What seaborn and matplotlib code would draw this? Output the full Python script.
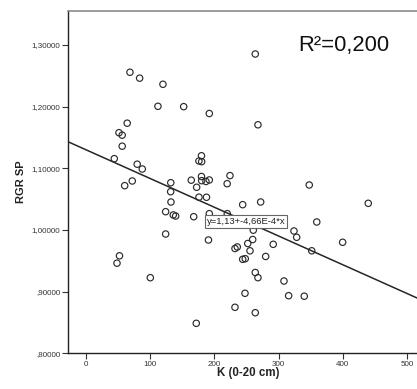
import matplotlib
matplotlib.use("Agg")
import matplotlib.pyplot as plt
import seaborn as sns
import numpy as np
import pandas as pd

# ---- data ----
k_values = [68.5, 83.6, 119.9, 112.1, 152.2, 192.1, 64.2, 51.4, 56.4, 56.4,
            44.1, 79.8, 87.7, 179.9, 176.0, 180.2, 60.3, 72.1, 132.1, 131.9,
            164.0, 172.4, 179.9, 186.9, 192.1, 224.3, 219.9, 176.0, 187.7, 132.4,
            124.1, 136.0, 139.7, 167.8, 124.1, 190.8, 52.2, 48.3, 100.2, 171.8,
            263.7, 267.9, 347.8, 439.7, 244.1, 272.1, 192.1, 220.1, 359.5, 260.6,
            324.0, 328.2, 259.7, 252.0, 291.7, 399.8, 351.7, 232.1, 235.7, 255.5,
            279.9, 244.1, 248.1, 263.7, 267.9, 308.4, 247.7, 315.7, 340.0, 232.1,
            263.7, 180.2]
rgr_values = [1.2557, 1.2461, 1.2362, 1.2005, 1.1999, 1.1888, 1.1731, 1.1577, 1.1537, 1.1358,
              1.1156, 1.1066, 1.0988, 1.1203, 1.1118, 1.1107, 1.0718, 1.0794, 1.0766, 1.0620,
              1.0807, 1.0692, 1.0867, 1.0786, 1.0810, 1.0881, 1.0750, 1.0531, 1.0530, 1.0453,
              1.0296, 1.0243, 1.0226, 1.0215, 0.9934, 0.9837, 0.9581, 0.9461, 0.9226, 0.8486,
              1.2853, 1.1705, 1.0729, 1.0432, 1.0410, 1.0453, 1.0264, 1.0264, 1.0129, 0.9996,
              0.9983, 0.9881, 0.9845, 0.9780, 0.9767, 0.9800, 0.9662, 0.9699, 0.9724, 0.9662,
              0.9570, 0.9524, 0.9534, 0.9310, 0.9226, 0.9172, 0.8973, 0.8934, 0.8926, 0.8746,
              0.8658, 1.0799]
intercept = 1.13
slope = -4.66e-4
r2_text = "R²=0,200"
eq_text = "y=1,13+-4,66E-4*x"
x_ticks = [0, 100, 200, 300, 400, 500]
y_ticks = [0.80, 0.90, 1.00, 1.10, 1.20, 1.30]
y_tick_labels = [",80000", ",90000", "1,00000", "1,10000", "1,20000", "1,30000"]
x_label = "K (0-20 cm)"
y_label = "RGR SP"

df = pd.DataFrame({"K": k_values, "RGR": rgr_values})

sns.set_theme(style="white")
plt.rcParams["font.family"] = ["Liberation Sans", "DejaVu Sans"]

fig = plt.figure(figsize=(4.17, 3.89), dpi=100)
ax = fig.add_axes([68 / 417, (389 - 353.3) / 389, (419.8 - 68) / 417, (353.3 - 11) / 389])

xmin, xmax = -28, 520
ax.set_xlim(xmin, xmax)
ax.set_ylim(0.80, 1.355)

# regression line
xs = np.array([xmin, xmax])
sns.lineplot(x=xs, y=intercept + slope * xs, ax=ax, color="#262626", linewidth=1.1, zorder=2)

sns.scatterplot(data=df, x="K", y="RGR", ax=ax, s=21, facecolor="none",
                edgecolor="#2b2b2b", linewidth=0.85, zorder=3)

ax.set_xticks(x_ticks)
ax.set_xticklabels([str(t) for t in x_ticks])
ax.set_yticks(y_ticks)
ax.set_yticklabels(y_tick_labels)
ax.tick_params(axis="both", which="major", direction="out", length=4, width=0.8,
               color="#333333", labelsize=5.8, labelcolor="#333333", pad=1.5,
               bottom=True, left=True)

ax.set_xlabel(x_label, fontsize=8.3, fontweight="bold", color="#222222")
ax.set_ylabel(y_label, fontsize=8, fontweight="bold", color="#222222")
ax.xaxis.set_label_coords(0.512, -0.058)
ax.xaxis.label.set_va("center")
ax.yaxis.set_label_coords(-0.134, 0.5)
ax.yaxis.label.set_va("center")

for side in ["left", "bottom"]:
    ax.spines[side].set_color("#222222")
    ax.spines[side].set_linewidth(1.0)
ax.spines["top"].set_color("#8a8a8a")
ax.spines["top"].set_linewidth(1.2)
ax.spines["right"].set_color("#8a8a8a")

ax.text(0.654, 0.90, r2_text, transform=ax.transAxes, fontsize=15.8,
        ha="left", va="center", color="#111111")

lx = 249
ax.text(lx, intercept + slope * lx, eq_text, fontsize=6.8, ha="center", va="center",
        color="#222222", zorder=5,
        bbox=dict(boxstyle="square,pad=0.2", facecolor="white", edgecolor="#666666", linewidth=0.8))

fig.savefig("out.png", dpi=100)
